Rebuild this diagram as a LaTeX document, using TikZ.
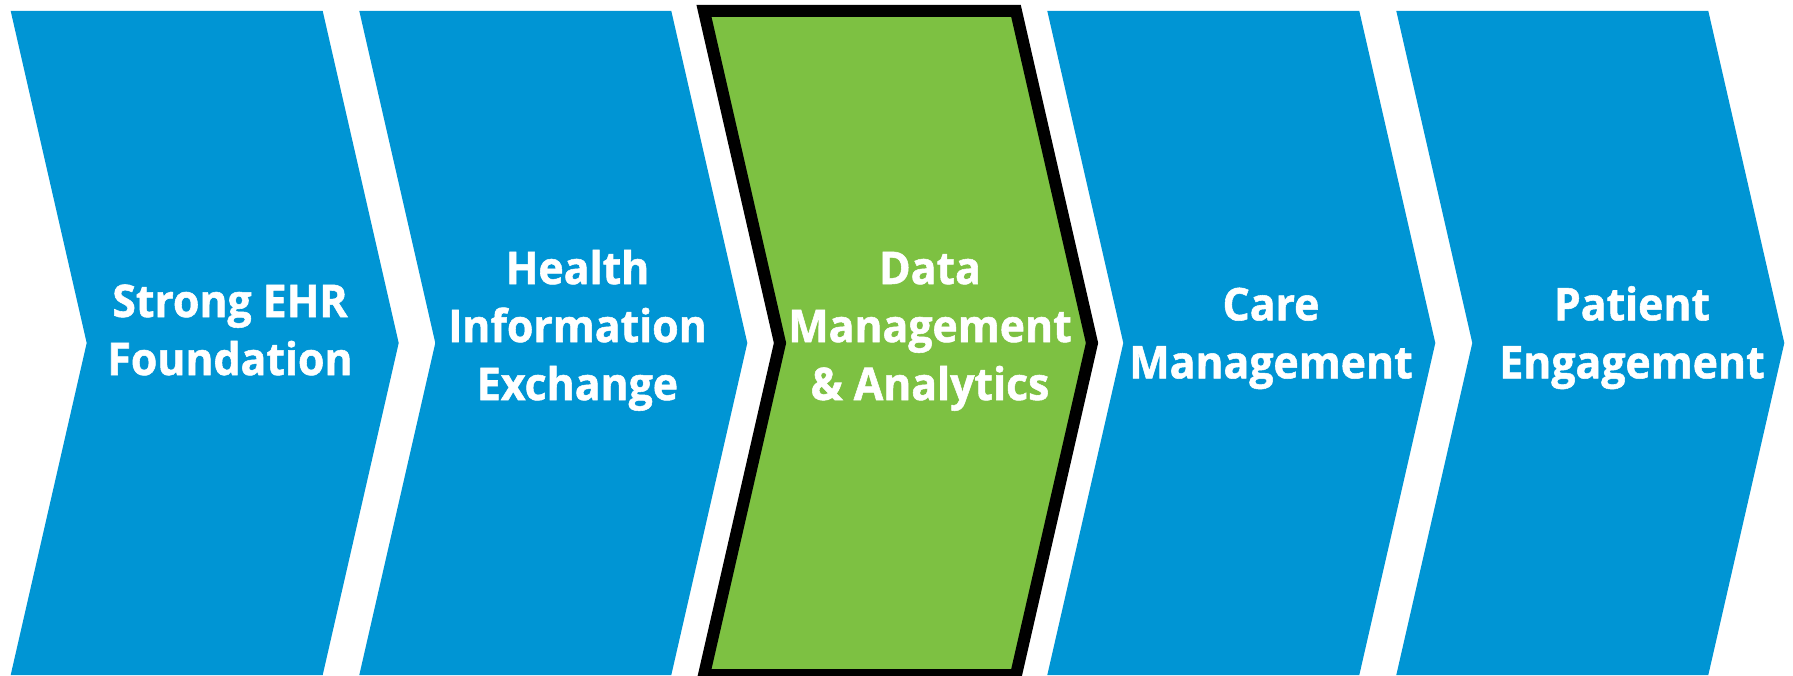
\documentclass[tikz,border=0pt]{standalone}
\usepackage{fontspec}
\setmainfont{Open Sans}
\newfontfamily\labelfont{Open Sans}[FakeStretch=0.95, BoldFeatures={FakeStretch=0.95, FakeBold=1.2}]
\definecolor{chevblue}{RGB}{0,149,212}
\definecolor{chevgreen}{RGB}{125,193,66}
\tikzset{
  bluechev/.style={fill=chevblue},
  greenchev/.style={fill=chevgreen, draw=black, line width=12pt, line join=miter},
  steplabel/.style={text=white, font=\labelfont\bfseries\fontsize{45}{58}\selectfont, align=center, anchor=base, inner sep=0pt},
}
\newcommand{\mychev}[2]{\path[#2] (#1,11) -- ++(312,0) -- ++(76,332) -- ++(-76,332) -- ++(-312,0) -- ++(76,-332) -- cycle;}
\begin{document}
\begin{tikzpicture}[x=1pt, y=-1pt]
\useasboundingbox (0,0) rectangle (1793,676);
\mychev{10.7}{bluechev}
\mychev{359.3}{bluechev}
\mychev{704}{greenchev}
\mychev{1047.3}{bluechev}
\mychev{1396.3}{bluechev}
\node[steplabel] (t1) at (230,375) {Strong EHR\\Foundation};
\node[steplabel] (t2) at (577.5,400) {Health\\Information\\Exchange};
\node[steplabel] (t3) at (930,400) {Data\\Management\\\& Analytics};
\node[steplabel] (t4) at (1271,378.3) {Care\\Management};
\node[steplabel] (t5) at (1632,378.3) {Patient\\Engagement};
\end{tikzpicture}
\end{document}
